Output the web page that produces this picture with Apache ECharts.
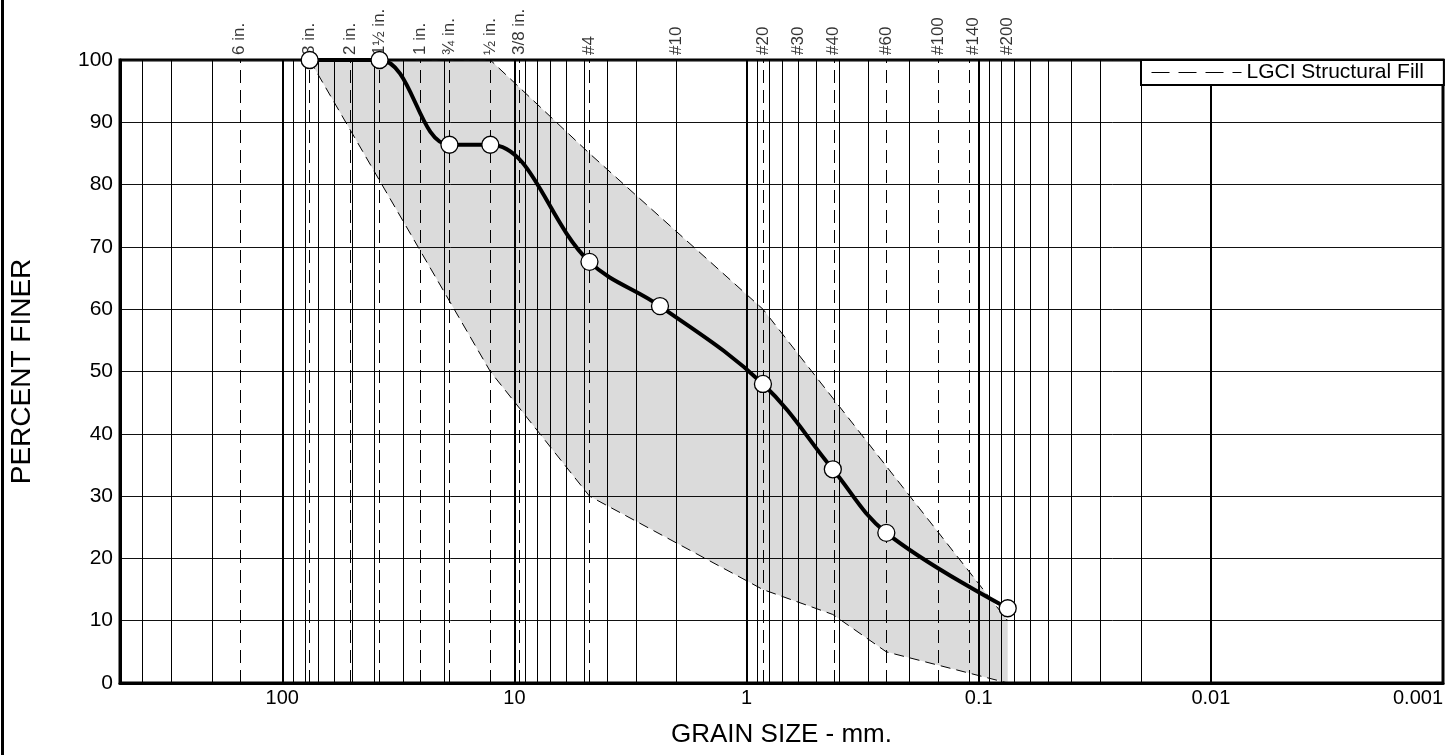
<!DOCTYPE html>
<html>
<head>
<meta charset="utf-8">
<script src="https://cdn.jsdelivr.net/npm/echarts@6/dist/echarts.min.js"></script>
<style>
html,body{margin:0;padding:0;background:#fff;}
#chart{width:1450px;height:755px;position:relative;}
#frame{position:absolute;left:1px;top:0;width:3px;height:755px;background:#000;z-index:5;}
</style>
</head>
<body>
<div id="chart"></div>
<div id="frame"></div>
<script>
// ---- data ----
const sieveSizes = [152.4, 76.2, 50.8, 38.1, 25.4, 19.05, 12.7, 9.525, 4.75, 2.0, 0.85, 0.6, 0.425, 0.25, 0.15, 0.106, 0.075];
const sieveLabels = ['6 in.', '3 in.', '2 in.', '1½ in.', '1 in.', '¾ in.', '½ in.', '3/8 in.', '#4', '#10', '#20', '#30', '#40', '#60', '#100', '#140', '#200'];
const sampleSize = [76.2, 38.1, 19.05, 12.7, 4.75, 2.36, 0.85, 0.425, 0.25, 0.075];
const samplePct  = [100, 100, 86.4, 86.4, 67.6, 60.5, 48.0, 34.3, 24.1, 12.0];
const upperSize = [76.2, 12.7, 4.75, 0.85, 0.075];
const upperPct  = [100, 100, 85, 60, 10];
const lowerSize = [76.2, 12.7, 4.75, 0.85, 0.425, 0.25, 0.075];
const lowerPct  = [100, 50, 30, 15, 11, 5, 0];
const xTickLabels = ['100', '10', '1', '0.1', '0.01', '0.001'];
const envelopeName = 'LGCI Structural Fill';

// log grid lines (1..9 x 10^n) below 500 mm
const gridLines = [];
for (let e = -3; e <= 2; e++) {
  for (let k = 1; k <= 9; k++) {
    const v = +(k * Math.pow(10, e)).toPrecision(6);
    if (v < 500) gridLines.push({ v: v, major: k === 1 });
  }
}

const FONT = "'Liberation Sans', Arial, Helvetica, sans-serif";
const chart = echarts.init(document.getElementById('chart'), null, { renderer: 'canvas' });

const pair = (xs, ys) => xs.map((x, i) => [x, ys[i]]);

const option = {
  animation: false,
  backgroundColor: '#fff',
  textStyle: { fontFamily: FONT, color: '#000' },
  grid: { left: 120, right: 7, top: 60, bottom: 72, show: true, borderColor: '#000', borderWidth: 3, backgroundColor: 'transparent' },
  legend: {
    show: true, left: 1141, top: 60, z: 20, orient: 'horizontal',
    data: [envelopeName],
    backgroundColor: '#fff', borderColor: '#000', borderWidth: 2, borderRadius: 0,
    padding: [2, 20, 2, 10],
    itemWidth: 90, itemHeight: 14,
    selectedMode: false,
    itemStyle: { opacity: 0 },
    lineStyle: { color: '#000', width: 1, type: [18, 9], opacity: 1 },
    textStyle: { fontFamily: FONT, fontSize: 21, color: '#000', width: 188 }
  },
  xAxis: {
    type: 'log', logBase: 10, min: 0.001, max: 500, inverse: true,
    name: 'GRAIN SIZE - mm.', nameLocation: 'middle', nameGap: 39,
    nameTextStyle: { fontFamily: FONT, fontSize: 26, color: '#000' },
    axisLine: { show: true, lineStyle: { color: '#000', width: 3 } },
    axisTick: { show: false },
    splitLine: { show: false },
    minorSplitLine: { show: false },
    axisLabel: {
      fontFamily: FONT, fontSize: 20, color: '#000', margin: 5,
      alignMinLabel: 'right',
      formatter: function (v) {
        const lg = Math.log10(v);
        if (Math.abs(lg - Math.round(lg)) > 1e-6) return '';
        const idx = 2 - Math.round(lg);
        return xTickLabels[idx] !== undefined ? xTickLabels[idx] : '';
      }
    }
  },
  yAxis: {
    type: 'value', min: 0, max: 100, interval: 10,
    name: 'PERCENT FINER', nameLocation: 'middle', nameGap: 84,
    nameTextStyle: { fontFamily: FONT, fontSize: 28, color: '#000' },
    axisLine: { show: true, lineStyle: { color: '#000', width: 3 } },
    axisTick: { show: false },
    splitLine: { show: true, lineStyle: { color: '#111', width: 1 } },
    axisLabel: { fontFamily: FONT, fontSize: 21, color: '#000', margin: 7 }
  },
  series: [
    {
      type: 'custom', name: 'envFill', silent: true, z: 1,
      data: [[1, 50]],
      renderItem: function (params, api) {
        const pts = [];
        for (let i = 0; i < upperSize.length; i++) pts.push(api.coord([upperSize[i], upperPct[i]]));
        pts.push(api.coord([lowerSize[lowerSize.length - 1], lowerPct[lowerPct.length - 1]]));
        for (let i = lowerSize.length - 2; i >= 0; i--) pts.push(api.coord([lowerSize[i], lowerPct[i]]));
        return { type: 'polygon', shape: { points: pts }, style: { fill: 'rgba(0,0,0,0.14)', stroke: null } };
      }
    },
    {
      type: 'line', name: 'vgrid', silent: true, z: 2, data: [], symbol: 'none',
      markLine: {
        silent: true, symbol: ['none', 'none'], label: { show: false }, animation: false,
        data: gridLines.map(g => ({ xAxis: g.v, lineStyle: { color: '#000', width: g.major ? 2 : 1, type: 'solid', opacity: 1 } }))
      }
    },
    {
      type: 'scatter', name: 'sieves', silent: true, z: 3,
      symbolSize: 0, clip: false,
      data: sieveSizes.map((s, i) => ({ value: [s, 100], name: sieveLabels[i] })),
      label: {
        show: true, position: 'top', distance: 5, rotate: 90,
        align: 'left', verticalAlign: 'middle',
        fontFamily: FONT, fontSize: 17, color: '#000',
        formatter: p => p.name
      },
      markLine: {
        silent: true, symbol: ['none', 'none'], label: { show: false }, animation: false,
        lineStyle: { color: '#000', width: 1, type: [13, 7] },
        data: sieveSizes.map(s => ({ xAxis: s }))
      }
    },
    {
      type: 'line', name: envelopeName, z: 4, symbol: 'none', silent: true,
      data: pair(upperSize, upperPct),
      itemStyle: { color: '#000' },
      lineStyle: { color: '#000', width: 1, type: [10, 6] }
    },
    {
      type: 'line', name: envelopeName, z: 4, symbol: 'none', silent: true,
      data: pair(lowerSize, lowerPct),
      itemStyle: { color: '#000' },
      lineStyle: { color: '#000', width: 1, type: [10, 6] }
    },
    {
      type: 'line', name: 'sample', z: 6, silent: true,
      data: pair(sampleSize, samplePct),
      smooth: 0.38,
      symbol: 'circle', symbolSize: 17, showAllSymbol: true,
      itemStyle: { color: '#fff', borderColor: '#000', borderWidth: 1.3 },
      lineStyle: { color: '#000', width: 4 },
      clip: false
    }
  ]
};
chart.setOption(option);
</script>
</body>
</html>
